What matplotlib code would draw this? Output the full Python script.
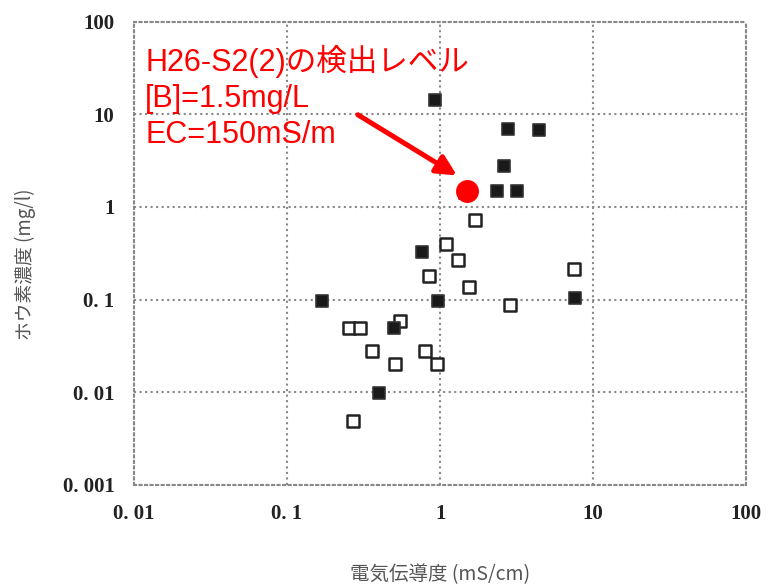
""" Boron concentration vs electrical conductivity """

import matplotlib
matplotlib.use('Agg')
from matplotlib import pyplot as plt

# Filled squares
filled_ec = [0.93, 2.8, 4.4, 2.6, 2.35, 3.2, 1.46, 0.76, 0.17, 0.97, 7.6, 0.50, 0.40]
filled_b = [14.3, 7.0, 6.7, 2.8, 1.47, 1.5, 1.41, 0.33, 0.096, 0.096, 0.105, 0.049, 0.0098]

# Open squares
open_ec = [1.7, 1.1, 1.3, 0.85, 1.55, 7.5, 2.85, 0.255, 0.30, 0.55, 0.36, 0.80, 0.51, 0.95, 0.27]
open_b = [0.73, 0.40, 0.27, 0.18, 0.136, 0.215, 0.087, 0.049, 0.049, 0.059, 0.028, 0.028,
          0.020, 0.020, 0.0049]

# Detection level H26-S2(2)
det_ec = 1.5
det_b = 1.5

ticks = [0.001, 0.01, 0.1, 1, 10, 100]
tick_labels = ['0. 001', '0. 01', '0. 1', '1', '10', '100']
xticks = [0.01, 0.1, 1, 10, 100]
xtick_labels = ['0. 01', '0. 1', '1', '10', '100']

fig = plt.figure(figsize=(7.66, 5.87), dpi=100)
ax = fig.add_axes([0.175, 0.174, 0.799, 0.789])

ax.set_xscale('log')
ax.set_yscale('log')
ax.set_xlim(0.01, 100)
ax.set_ylim(0.001, 100)

ax.scatter(open_ec, open_b, marker='s', s=80, facecolors='white',
           edgecolors='#222222', linewidths=1.8, zorder=3)
ax.scatter(filled_ec, filled_b, marker='s', s=80, facecolors='#1a1a1a',
           edgecolors='#333333', linewidths=1.2, zorder=3)
ax.scatter([det_ec], [det_b], marker='o', s=240, color='#ff0000', zorder=5)

ax.annotate('', xy=(1.29, 2.19), xytext=(0.29, 9.9),
            arrowprops=dict(arrowstyle='-|>', color='#ff0000', lw=3.6,
                            mutation_scale=30, shrinkA=0, shrinkB=0),
            zorder=6)

ax.text(0.0118, 56, 'H26-S2(2)の検出レベル\n[B]=1.5mg/L\nEC=150mS/m',
        color='#ff0000', fontsize=22, va='top', ha='left', linespacing=1.25,
        family=['Liberation Sans', 'Noto Sans CJK JP'], zorder=6)

# Format plot.
ax.minorticks_off()
ax.set_xticks(xticks)
ax.set_xticklabels(xtick_labels)
ax.set_yticks(ticks)
ax.set_yticklabels(tick_labels)
ax.tick_params(length=0, pad=14, labelsize=15, colors='#222222')
for lab in ax.get_xticklabels() + ax.get_yticklabels():
    lab.set_family('Liberation Serif')
    lab.set_weight('bold')

ax.grid(True, which='major', linestyle=':', color='#888888', linewidth=1.5)
for sp in ax.spines.values():
    sp.set_linestyle(':')
    sp.set_color('#888888')
    sp.set_linewidth(1.5)

ax.set_xlabel('電気伝導度 (mS/cm)', family='Noto Sans CJK JP', fontsize=14,
              color='#555555', va='center')
ax.set_ylabel('ホウ素濃度 (mg/l)', family='Noto Sans CJK JP', fontsize=13.5,
              color='#555555', va='center')
ax.xaxis.set_label_coords(0.5, -0.194)
ax.yaxis.set_label_coords(-0.178, 0.477)

plt.savefig('out.png', dpi=100)
